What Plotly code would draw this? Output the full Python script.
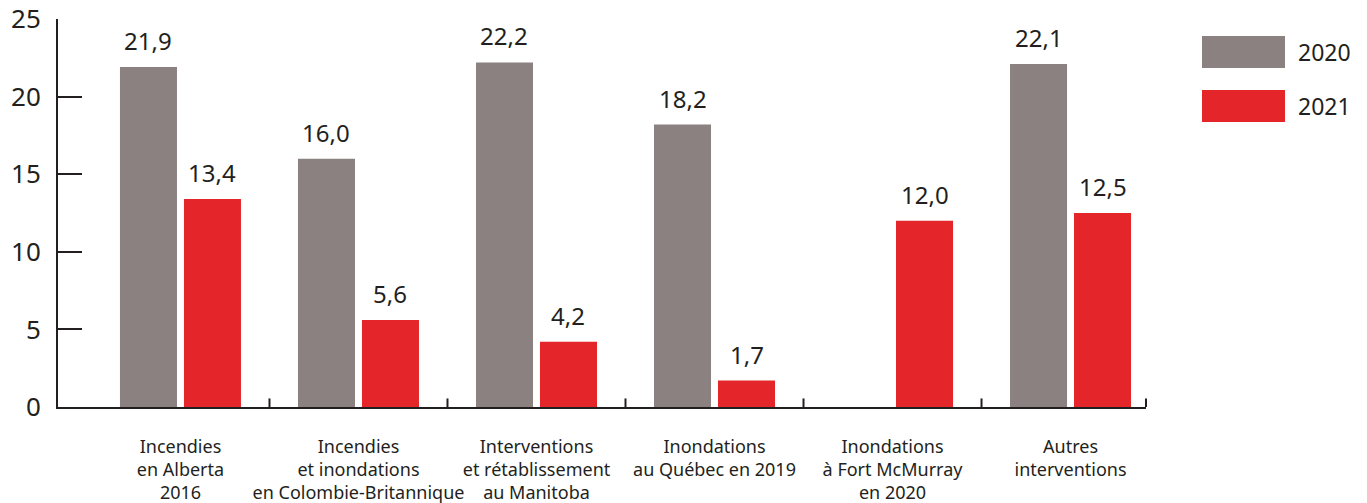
import plotly.graph_objects as go

categories = [
    "Incendies<br>en Alberta<br>2016",
    "Incendies<br>et inondations<br>en Colombie-Britannique",
    "Interventions<br>et rétablissement<br>au Manitoba",
    "Inondations<br>au Québec en 2019",
    "Inondations<br>à Fort McMurray<br>en 2020",
    "Autres<br>interventions",
]
values_2020 = [21.9, 16.0, 22.2, 18.2, None, 22.1]
values_2021 = [13.4, 5.6, 4.2, 1.7, 12.0, 12.5]
series_names = ["2020", "2021"]
y_ticks = [0, 5, 10, 15, 20, 25]

GRAY = "#8a8180"
RED = "#e4262a"
INK = "#231f20"
FONT = "Noto Sans"

fig = go.Figure()
fig.add_trace(go.Bar(x=categories, y=values_2020, name=series_names[0],
                     marker=dict(color=GRAY, line=dict(width=0)), showlegend=False))
fig.add_trace(go.Bar(x=categories, y=values_2021, name=series_names[1],
                     marker=dict(color=RED, line=dict(width=0)), showlegend=False))

def fmt(v):
    return f"{v:.1f}".replace(".", ",")

annotations = []
for vals, shift in ((values_2020, -32), (values_2021, 32)):
    for c, v in zip(categories, vals):
        if v is None:
            continue
        annotations.append(dict(x=c, y=v, xref="x", yref="y", text=fmt(v),
                                showarrow=False, xshift=shift, yanchor="bottom",
                                yshift=8, font=dict(size=24, color=INK, family=FONT)))

# legend (drawn manually to match the large swatches)
shapes = []
for i, (name, col) in enumerate(zip(series_names, [GRAY, RED])):
    y_top = 1 - (36 - 19) / 388 - i * (54 / 388)
    y_bot = y_top - 32 / 388
    shapes.append(dict(type="rect", xref="paper", yref="paper",
                       x0=(1202 - 58) / 1088, x1=(1285 - 58) / 1088,
                       y0=y_bot, y1=y_top, fillcolor=col, line=dict(width=0)))
    annotations.append(dict(xref="paper", yref="paper", x=(1296 - 58) / 1088,
                            y=(y_top + y_bot) / 2, text=name, showarrow=False,
                            xanchor="left", yanchor="middle",
                            font=dict(size=23, color=INK, family=FONT)))

# category boundary ticks on the x axis
for i in range(len(categories) - 1):
    shapes.append(dict(type="line", xref="x", yref="y", x0=i + 0.5, x1=i + 0.5,
                       y0=0, y1=0.55, line=dict(color=INK, width=2)))
shapes.append(dict(type="line", xref="paper", yref="y", x0=1, x1=1,
                   y0=0, y1=0.55, line=dict(color=INK, width=2)))

fig.update_layout(
    width=1367, height=503,
    margin=dict(l=58, r=221, t=19, b=96),
    paper_bgcolor="white", plot_bgcolor="white",
    barmode="group", bargap=0.281, bargroupgap=0.109,
    font=dict(family=FONT, color=INK),
    annotations=annotations, shapes=shapes,
    hovermode=False,
)
fig.update_xaxes(range=[-0.688, 5.424], showline=True, linewidth=2, linecolor=INK,
                 ticks="", showgrid=False, zeroline=False, tickangle=0, automargin=False,
                 ticklabeloverflow="allow",
                 tickfont=dict(size=18, color=INK, family=FONT), ticklabelstandoff=22)
fig.update_yaxes(range=[0, 25], tickvals=y_ticks, showline=True, linewidth=2,
                 linecolor=INK, ticks="inside", ticklen=24, tickwidth=2, automargin=False,
                 ticklabeloverflow="allow",
                 tickcolor=INK, showgrid=False, zeroline=False,
                 tickfont=dict(size=26, color=INK, family=FONT), ticklabelstandoff=10)

fig.write_html("out.html", config={"displayModeBar": False},
               post_script="document.body.style.margin='0';document.body.style.overflow='hidden';")
